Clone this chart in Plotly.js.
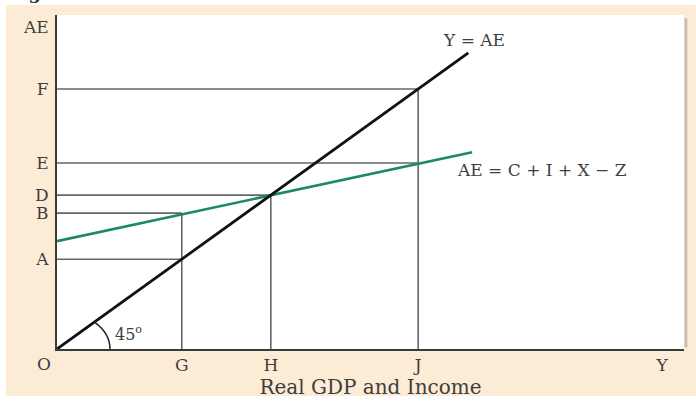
<!DOCTYPE html>
<html>
<head>
<meta charset="utf-8">
<script src="https://cdn.plot.ly/plotly-3.0.1.min.js"></script>
<style>
  html, body { margin: 0; padding: 0; background: #ffffff; }
  #chart { width: 696px; height: 401px; }
</style>
</head>
<body>
<div id="chart"></div>
<script>
// Income levels marked on the horizontal axis
const xLetters = ['G', 'H', 'J', 'Y'];
const xValues = [19.9, 34.1, 57.6, 96.5];

// Spending levels marked on the vertical axis
const yLetters = ['A', 'B', 'D', 'E', 'F', 'AE'];
const yValues = [19.9, 30.1, 34.1, 41.2, 57.6, 71.4];

// 45-degree line: Y = AE
const line45X = [0, 65.6];
const line45Y = [0, 65.6];

// Aggregate expenditure line: AE = C + I + X - Z
const aeX = [0, 66.2];
const aeY = [23.9, 43.6];

// Dropped guide lines: each horizontal runs from the AE axis to its income level,
// each vertical rises from the income axis to its spending level
const hGuideIncome = [19.9, 19.9, 34.1, 57.6, 57.6];   // G, G, H, J, J
const hGuideSpend  = [19.9, 30.1, 34.1, 41.2, 57.6];   // A, B, D, E, F
const vGuideIncome = [19.9, 34.1, 57.6];               // G, H, J
const vGuideSpend  = [30.1, 34.1, 57.6];               // B, D, F

const serif = 'DejaVu Serif, Liberation Serif, serif';
const ink = '#3e3e3e';
const beige = '#fcecd6';

const guideX = [], guideY = [];
hGuideIncome.forEach((x, i) => { guideX.push(0, x, null); guideY.push(hGuideSpend[i], hGuideSpend[i], null); });
vGuideIncome.forEach((x, i) => { guideX.push(x, x, null); guideY.push(0, vGuideSpend[i], null); });

const traces = [
  { x: guideX, y: guideY, mode: 'lines', line: { color: '#666666', width: 1.6 },
    hoverinfo: 'skip', showlegend: false },
  { x: aeX, y: aeY, mode: 'lines', line: { color: '#1b8a5e', width: 2.6 },
    showlegend: false },
  { x: line45X, y: line45Y, mode: 'lines', line: { color: '#111111', width: 2.8 },
    showlegend: false }
];

const layout = {
  width: 696, height: 401,
  margin: { l: 57, r: 12, t: 15, b: 52, pad: 0 },
  paper_bgcolor: beige,
  plot_bgcolor: '#ffffff',
  showlegend: false,
  xaxis: {
    range: [0, 100], fixedrange: true,
    showgrid: false, zeroline: false,
    showline: true, linecolor: '#3a3a3a', linewidth: 2,
    ticks: '', tickvals: xValues, ticktext: xLetters,
    ticklabelstandoff: 0,
    tickfont: { family: serif, size: 17, color: ink },
    title: { text: 'Real GDP and Income', standoff: 0,
             font: { family: serif, size: 20, color: ink } }
  },
  yaxis: {
    range: [0, 74], fixedrange: true,
    showgrid: false, zeroline: false,
    showline: true, linecolor: '#3a3a3a', linewidth: 2,
    ticks: '', tickvals: yValues, ticktext: yLetters,
    ticklabelstandoff: 3,
    tickfont: { family: serif, size: 17, color: ink }
  },
  shapes: [
    // white page margins around the beige panel
    { type: 'rect', xref: 'paper', yref: 'paper', x0: -0.2, x1: 1.2, y0: 1.0299, y1: 1.2,
      fillcolor: '#ffffff', line: { width: 0 }, layer: 'below' },
    { type: 'rect', xref: 'paper', yref: 'paper', x0: -0.2, x1: -0.0813, y0: -0.3, y1: 1.2,
      fillcolor: '#ffffff', line: { width: 0 }, layer: 'below' },
    { type: 'rect', xref: 'paper', yref: 'paper', x0: -0.2, x1: 1.2, y0: -0.3, y1: -0.1407,
      fillcolor: '#ffffff', line: { width: 0 }, layer: 'below' },
    // soft shadow along the right edge of the white plot panel
    { type: 'line', xref: 'paper', yref: 'paper', x0: 1.003, x1: 1.003, y0: 0.005, y1: 0.99,
      line: { color: '#c9beb0', width: 3 } },
    // angle marker at the origin
    { type: 'path', xref: 'x', yref: 'y', xsizemode: 'pixel', ysizemode: 'pixel',
      xanchor: 0, yanchor: 0,
      path: 'M 53,0 C 53,10.1 47.4,19.7 37.5,26.9',
      line: { color: '#222222', width: 1.5 } }
  ],
  annotations: [
    { text: 'Y = AE', x: 61.2, y: 68.5, xref: 'x', yref: 'y', xanchor: 'left', yanchor: 'middle',
      showarrow: false, font: { family: serif, size: 17, color: ink } },
    { text: 'AE = C + I + X \u2212 Z', x: 63.5, y: 39.7, xref: 'x', yref: 'y', xanchor: 'left', yanchor: 'middle',
      showarrow: false, font: { family: serif, size: 17, color: ink } },
    { text: '45<sup>o</sup>', x: 8.9, y: 3.4, xref: 'x', yref: 'y', xanchor: 'left', yanchor: 'middle',
      showarrow: false, font: { family: serif, size: 16, color: ink } },
    { text: 'O', x: -0.0207, y: -0.0449, xref: 'paper', yref: 'paper', xanchor: 'center', yanchor: 'middle',
      showarrow: false, font: { family: serif, size: 17, color: ink } },
    { text: '<b>Figure</b>', x: -0.079, y: 1.0299, xref: 'paper', yref: 'paper', xanchor: 'left', yanchor: 'bottom',
      showarrow: false, font: { family: serif, size: 18, color: '#333333' } }
  ]
};

Plotly.newPlot('chart', traces, layout, { staticPlot: true, displayModeBar: false });
</script>
</body>
</html>
